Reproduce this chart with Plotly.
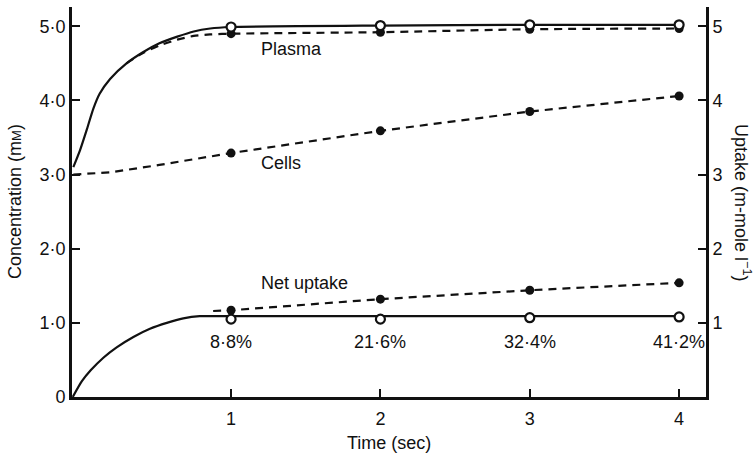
import plotly.graph_objects as go

# ---- data ----
t_obs = [1, 2, 3, 4]
plasma_open = [4.99, 5.01, 5.02, 5.02]
plasma_filled = [4.90, 4.92, 4.96, 4.97]
cells_filled = [3.29, 3.59, 3.85, 4.06]
uptake_open = [1.05, 1.05, 1.07, 1.08]
uptake_filled = [1.17, 1.32, 1.44, 1.54]

plasma_fit_t = [-0.056, -0.011, 0.033, 0.078, 0.12, 0.19, 0.30, 0.41, 0.52, 0.64, 0.75, 0.86, 1.0, 2.0, 3.0, 4.0]
plasma_fit_y = [3.10, 3.33, 3.60, 3.89, 4.09, 4.29, 4.50, 4.65, 4.77, 4.86, 4.93, 4.97, 4.99, 5.01, 5.02, 5.02]

plasma_dash_t = [0.30, 0.41, 0.52, 0.64, 0.75, 0.86, 1.0, 2.0, 3.0, 4.0]
plasma_dash_y = [4.50, 4.64, 4.74, 4.82, 4.87, 4.89, 4.90, 4.92, 4.96, 4.97]

cells_dash_t = [-0.056, 0.19, 0.52, 0.75, 1.0, 2.0, 3.0, 4.0]
cells_dash_y = [3.0, 3.03, 3.13, 3.21, 3.29, 3.59, 3.85, 4.06]

uptake_fit_t = [-0.06, 0.0, 0.06, 0.145, 0.234, 0.346, 0.457, 0.57, 0.68, 0.79, 1.0, 2.0, 3.0, 4.0]
uptake_fit_y = [0.0, 0.21, 0.36, 0.53, 0.67, 0.81, 0.92, 1.00, 1.06, 1.09, 1.09, 1.09, 1.09, 1.09]

uptake_dash_t = [0.88, 1.0, 2.0, 3.0, 4.0]
uptake_dash_y = [1.16, 1.17, 1.32, 1.44, 1.54]

pct_labels = ["8·8%", "21·6%", "32·4%", "41·2%"]
pct_y = [0.74, 0.74, 0.74, 0.74]

y_ticks = [0, 1, 2, 3, 4, 5]
y_ticktext = ["0", "1·0", "2·0", "3·0", "4·0", "5·0"]
y2_ticks = [1, 2, 3, 4, 5]
y2_ticktext = ["1", "2", "3", "4", "5"]
x_ticks = [1, 2, 3, 4]
x_ticktext = ["1", "2", "3", "4"]

FONT = "Liberation Sans, Arial, sans-serif"
BLACK = "#111111"
DASH = "8px,6px"

fig = go.Figure()

def line(t, y, dash=None, width=2.2, shape="spline", smoothing=0.6):
    fig.add_trace(go.Scatter(x=t, y=y, mode="lines", line_shape=shape,
                             line=dict(color=BLACK, width=width, dash=dash,
                                       **({"smoothing": smoothing} if shape == "spline" else {})),
                             showlegend=False, hoverinfo="skip"))

def marks(t, y, open_=False):
    fig.add_trace(go.Scatter(x=t, y=y, mode="markers",
                             marker=dict(size=9,
                                         color="white" if open_ else BLACK,
                                         line=dict(color=BLACK, width=2.2 if open_ else 0),
                                         symbol="circle"),
                             showlegend=False, hoverinfo="skip"))

line(plasma_dash_t, plasma_dash_y, DASH)
line(plasma_fit_t, plasma_fit_y)
line(cells_dash_t, cells_dash_y, DASH, shape="linear")
line(uptake_dash_t, uptake_dash_y, DASH, shape="linear")
line(uptake_fit_t, uptake_fit_y)

marks(t_obs, plasma_filled)
marks(t_obs, plasma_open, open_=True)
marks(t_obs, cells_filled)
marks(t_obs, uptake_filled)
marks(t_obs, uptake_open, open_=True)

# invisible trace to activate the right axis
fig.add_trace(go.Scatter(x=[1], y=[1], yaxis="y2", mode="markers",
                         marker=dict(opacity=0), showlegend=False, hoverinfo="skip"))

tf = dict(family=FONT, size=18, color=BLACK)

annos = [
    dict(x=1.19, y=4.69, text="Plasma"),
    dict(x=1.19, y=3.15, text="Cells"),
    dict(x=1.19, y=1.54, text="Net uptake"),
]
for a in annos:
    fig.add_annotation(x=a["x"], y=a["y"], text=a["text"], showarrow=False,
                       xanchor="left", yanchor="middle", font=tf)
for t, lab, yy in zip(t_obs, pct_labels, pct_y):
    fig.add_annotation(x=t, y=yy, text=lab, showarrow=False,
                       xanchor="center", yanchor="middle", font=tf)

# axis titles
fig.add_annotation(xref="paper", yref="paper", x=0, y=0.5, xshift=-57,
                   text="Concentration (m<span style='font-size:13px'>M</span>)",
                   textangle=-90, showarrow=False, font=tf,
                   xanchor="center", yanchor="middle")
fig.add_annotation(xref="paper", yref="paper", x=1, y=0.5, xshift=37,
                   text="Uptake (m-mole l<sup>−1</sup>)",
                   textangle=90, showarrow=False, font=tf,
                   xanchor="center", yanchor="middle")
fig.add_annotation(xref="paper", yref="paper", x=0.5, y=0, yshift=-46,
                   text="Time (sec)", showarrow=False, font=tf,
                   xanchor="center", yanchor="middle")

axis_common = dict(showline=True, linecolor=BLACK, linewidth=2.6, ticks="inside",
                   tickcolor=BLACK, tickwidth=2.2, ticklen=8, showgrid=False,
                   zeroline=False, tickfont=tf)

fig.update_layout(
    width=755, height=454,
    margin=dict(l=72, r=49, t=7, b=57),
    paper_bgcolor="white", plot_bgcolor="white",
    xaxis=dict(range=[-0.065, 4.18], tickvals=x_ticks, ticktext=x_ticktext,
               ticklabelstandoff=4, **axis_common),
    yaxis=dict(range=[0, 5.26], tickvals=y_ticks, ticktext=y_ticktext, **axis_common),
    yaxis2=dict(range=[0, 5.26], tickvals=y2_ticks, ticktext=y2_ticktext, overlaying="y",
                side="right", **axis_common),
)

fig.write_html("out.html")
